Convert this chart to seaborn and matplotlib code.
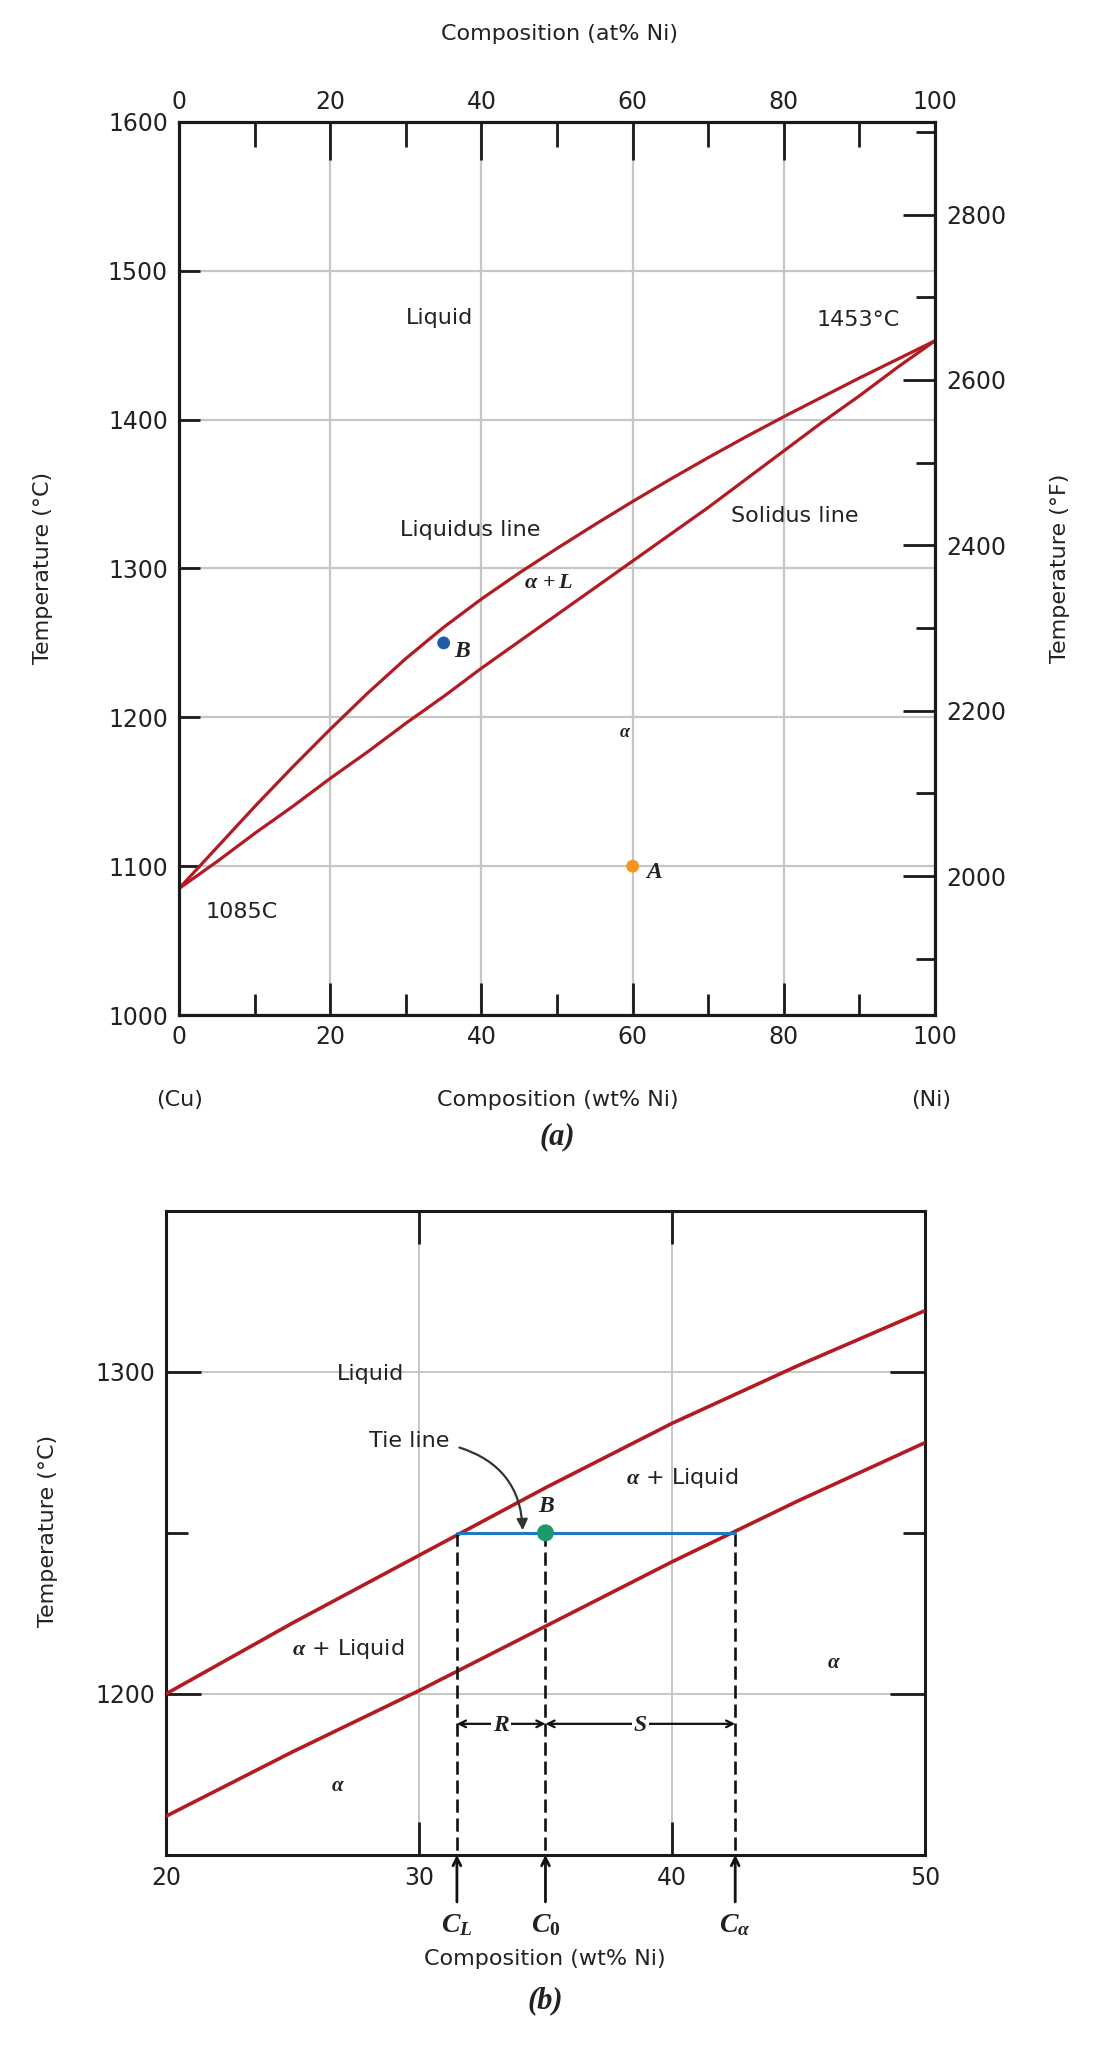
import matplotlib
matplotlib.use("Agg")
import matplotlib.pyplot as plt
import matplotlib.transforms as mtransforms
from matplotlib.ticker import FixedLocator, NullFormatter
import seaborn as sns

# ---------------- data ----------------
# (a) full Cu-Ni diagram
wt_ni_a = [0, 5, 10, 15, 20, 25, 30, 35, 40, 45, 50,
           55, 60, 65, 70, 75, 80, 85, 90, 95, 100]
liquidus_a = [1085, 1112.5, 1140, 1166.5, 1192, 1216.5, 1239.5, 1260.5, 1279.5,
              1297, 1313.5, 1329.5, 1345, 1360, 1374.5, 1388.5, 1402, 1415,
              1428, 1440.5, 1453]
solidus_a = [1085, 1103, 1122, 1140, 1159, 1177, 1196, 1214, 1233, 1251, 1269,
             1287, 1305, 1323, 1341, 1360, 1379, 1398, 1416, 1435, 1453]
point_names_a = ["B", "A"]
point_wt_a = [35, 60]
point_T_a = [1250, 1100]
point_colors_a = ["#1f5ca8", "#f7941d"]

x_major_a = [0, 20, 40, 60, 80, 100]
x_minor_a = [10, 30, 50, 70, 90]
y_major_a = [1000, 1100, 1200, 1300, 1400, 1500, 1600]
yF_major = [2000, 2200, 2400, 2600, 2800]
yF_minor = [1900, 2100, 2300, 2500, 2700, 2900]

# (b) enlarged region
wt_ni_b = [20, 25, 30, 35, 40, 45, 50]
liquidus_b = [1200, 1222, 1243, 1264, 1284, 1302, 1319]
solidus_b = [1162, 1182, 1201, 1221, 1241, 1260, 1278]
tie_T = 1250
comp_x = [31.5, 35.0, 42.5]          # C_L, C_0, C_alpha
comp_labels = [r"$C_L$", r"$C_0$", r"$C_\alpha$"]
x_major_b = [20, 30, 40, 50]
y_major_b = [1200, 1300]
y_minor_b = [1150, 1250, 1350]

RED = "#b31b22"
GRID = "#c6c6c6"
TXT = "#222222"
TIE = "#1f78c4"
GREEN = "#1a9a6a"

# ---------------- style ----------------
sns.set_theme(style="white")
plt.rcParams["font.family"] = ["DejaVu Sans"]
plt.rcParams["mathtext.fontset"] = "custom"
plt.rcParams["mathtext.it"] = "Liberation Serif:italic:bold"
plt.rcParams["mathtext.rm"] = "Liberation Serif:bold"
plt.rcParams["mathtext.bf"] = "Liberation Serif:bold"
plt.rcParams["text.color"] = TXT
plt.rcParams["axes.edgecolor"] = "#1a1a1a"
plt.rcParams["xtick.color"] = "#1a1a1a"
plt.rcParams["ytick.color"] = "#1a1a1a"
plt.rcParams["xtick.labelcolor"] = TXT
plt.rcParams["ytick.labelcolor"] = TXT

TICKFS = 17
LABFS = 16
TEXTFS = 16

fig = plt.figure(figsize=(11.08, 20.46), dpi=100)

# ================= panel (a) =================
ax = fig.add_axes([0.1616, 0.5039, 0.6823, 0.4365])
ax.set_xlim(0, 100)
ax.set_ylim(1000, 1600)
ax.grid(True, color=GRID, lw=1.6)
ax.set_axisbelow(True)

sns.lineplot(x=wt_ni_a, y=liquidus_a, ax=ax, color=RED, lw=2.3,
             estimator=None, sort=False, zorder=3)
sns.lineplot(x=wt_ni_a, y=solidus_a, ax=ax, color=RED, lw=2.3,
             estimator=None, sort=False, zorder=3)
sns.scatterplot(x=point_wt_a, y=point_T_a, hue=point_names_a,
                palette=dict(zip(point_names_a, point_colors_a)),
                s=85, edgecolor="none", legend=False, ax=ax, zorder=4)

ax.xaxis.set_major_locator(FixedLocator(x_major_a))
ax.xaxis.set_minor_locator(FixedLocator(x_minor_a))
ax.yaxis.set_major_locator(FixedLocator(y_major_a))
ax.tick_params(axis="x", which="major", direction="in", length=23, width=2,
               labelsize=TICKFS, pad=7, bottom=True, top=False)
ax.tick_params(axis="x", which="minor", direction="in", length=15, width=2,
               bottom=True, top=False)
ax.tick_params(axis="y", which="major", direction="in", length=15, width=2,
               labelsize=TICKFS, pad=8, left=True, right=False)
for sp in ax.spines.values():
    sp.set_linewidth(2.2)
ax.set_xlabel("")
ax.set_ylabel("")

# top axis (at% Ni)
axT = ax.twiny()
axT.set_xlim(0, 100)
axT.xaxis.set_major_locator(FixedLocator(x_major_a))
axT.xaxis.set_minor_locator(FixedLocator(x_minor_a))
axT.tick_params(axis="x", which="major", direction="in", length=27, width=2,
                labelsize=TICKFS, pad=6)
axT.tick_params(axis="x", which="minor", direction="in", length=18, width=2)
axT.grid(False)

# right axis (deg F)
axR = ax.twinx()
axR.set_ylim(1000 * 9 / 5 + 32, 1600 * 9 / 5 + 32)
axR.yaxis.set_major_locator(FixedLocator(yF_major))
axR.yaxis.set_minor_locator(FixedLocator(yF_minor))
axR.yaxis.set_minor_formatter(NullFormatter())
axR.tick_params(axis="y", which="major", direction="in", length=23, width=2,
                labelsize=TICKFS, pad=8)
axR.tick_params(axis="y", which="minor", direction="in", length=14, width=2)
axR.grid(False)
for a in (axT, axR):
    for sp in a.spines.values():
        sp.set_linewidth(2.2)

# annotations (a)
ax.text(34.5, 1468, "Liquid", fontsize=TEXTFS, ha="center", va="center")
ax.text(89.8, 1467, "1453°C", fontsize=TEXTFS, ha="center", va="center")
ax.text(38.5, 1326, "Liquidus line", fontsize=TEXTFS, ha="center", va="center")
ax.text(81.4, 1335, "Solidus line", fontsize=TEXTFS, ha="center", va="center")
ax.text(48.9, 1291, r"$\alpha\,+L$", fontsize=16, ha="center", va="center")
ax.text(59.0, 1190, r"$\alpha$", fontsize=13, ha="center", va="center")
ax.text(8.3, 1069, "1085C", fontsize=TEXTFS, ha="center", va="center")
ax.text(point_wt_a[0] + 1.4, point_T_a[0] - 5, "$B$", fontsize=17,
        ha="left", va="center")
ax.text(point_wt_a[1] + 1.6, point_T_a[1] - 3, "$A$", fontsize=17,
        ha="left", va="center")

fig.text(0.505, 0.9834, "Composition (at% Ni)", fontsize=LABFS,
         ha="center", va="center")
fig.text(0.0388, 0.7224, "Temperature (°C)", fontsize=LABFS, rotation=90,
         ha="center", va="center")
fig.text(0.9567, 0.7224, "Temperature (°F)", fontsize=LABFS, rotation=90,
         ha="center", va="center")
fig.text(0.1624, 0.4624, "(Cu)", fontsize=LABFS, ha="center", va="center")
fig.text(0.503, 0.4624, "Composition (wt% Ni)", fontsize=LABFS,
         ha="center", va="center")
fig.text(0.840, 0.4624, "(Ni)", fontsize=LABFS, ha="center", va="center")
fig.text(0.503, 0.4443, "(a)", fontsize=22, ha="center", va="center",
         family="Liberation Serif", weight="bold", style="italic")

# ================= panel (b) =================
ax2 = fig.add_axes([0.1498, 0.0934, 0.685, 0.3148])
ax2.set_xlim(20, 50)
ax2.set_ylim(1150, 1350)
ax2.xaxis.set_major_locator(FixedLocator(x_major_b))
ax2.yaxis.set_major_locator(FixedLocator(y_major_b))
ax2.yaxis.set_minor_locator(FixedLocator(y_minor_b))
ax2.yaxis.set_minor_formatter(NullFormatter())
ax2.grid(True, which="major", color=GRID, lw=1.4)
ax2.set_axisbelow(True)

sns.lineplot(x=wt_ni_b, y=liquidus_b, ax=ax2, color=RED, lw=2.6,
             estimator=None, sort=False, zorder=3)
sns.lineplot(x=wt_ni_b, y=solidus_b, ax=ax2, color=RED, lw=2.6,
             estimator=None, sort=False, zorder=3)

# dashed drop lines
for cx in comp_x:
    ax2.plot([cx, cx], [tie_T, 1150], color="#111111", lw=1.9,
             ls=(0, (5, 2.2)), zorder=3, clip_on=False)
# tie line
ax2.plot([comp_x[0], comp_x[2]], [tie_T, tie_T], color=TIE, lw=2.2, zorder=4)
sns.scatterplot(x=[comp_x[1]], y=[tie_T], color=GREEN, s=150,
                edgecolor="none", legend=False, ax=ax2, zorder=5)
ax2.text(comp_x[1] + 0.05, 1258.5, "$B$", fontsize=17, ha="center",
         va="center")

# tie line callout
ax2.text(29.6, 1278.5, "Tie line", fontsize=TEXTFS, ha="center", va="center")
ax2.annotate("", xy=(34.1, 1250.8), xytext=(31.6, 1276.5),
             arrowprops=dict(arrowstyle="-|>", connectionstyle="arc3,rad=-0.35",
                             color="#333333", lw=1.6, shrinkA=0, shrinkB=0,
                             mutation_scale=16), zorder=6)

# R and S dimension arrows
dimT = 1190.7
for x0, x1, lab in [(comp_x[0], comp_x[1], "$R$"), (comp_x[1], comp_x[2], "$S$")]:
    ax2.annotate("", xy=(x0, dimT), xytext=(x1, dimT),
                 arrowprops=dict(arrowstyle="<->", color="#111111", lw=1.6,
                                 shrinkA=0, shrinkB=0, mutation_scale=12),
                 zorder=4)
    ax2.text((x0 + x1) / 2, dimT, lab, fontsize=17, ha="center", va="center",
             bbox=dict(facecolor="white", edgecolor="none", pad=1), zorder=5)

# region labels
ax2.text(28.1, 1299.4, "Liquid", fontsize=TEXTFS, ha="center", va="center")
ax2.text(40.4, 1267, r"$\alpha$ + Liquid", fontsize=TEXTFS, ha="center",
         va="center")
ax2.text(27.2, 1213.8, r"$\alpha$ + Liquid", fontsize=TEXTFS, ha="center",
         va="center")
ax2.text(46.4, 1210, r"$\alpha$", fontsize=15, ha="center", va="center")
ax2.text(26.8, 1171.7, r"$\alpha$", fontsize=15, ha="center", va="center")

# arrows below axis pointing up to compositions
trans = mtransforms.blended_transform_factory(ax2.transData, ax2.transAxes)
for cx, lab in zip(comp_x, comp_labels):
    ax2.annotate("", xy=(cx, 0.0), xycoords=trans, xytext=(cx, -0.073),
                 textcoords=trans, annotation_clip=False,
                 arrowprops=dict(arrowstyle="->", color="#111111", lw=2.0,
                                 shrinkA=0, shrinkB=0, mutation_scale=14))
    ax2.text(cx, -0.107, lab, transform=trans, fontsize=20, ha="center",
             va="center")

ax2.tick_params(axis="x", which="major", direction="in", length=24, width=2,
                labelsize=TICKFS, pad=8, bottom=True, top=True)
ax2.tick_params(axis="y", which="major", direction="in", length=25, width=2,
                labelsize=TICKFS, pad=8, left=True, right=True)
ax2.tick_params(axis="y", which="minor", direction="in", length=16, width=2,
                left=True, right=True)
for sp in ax2.spines.values():
    sp.set_linewidth(2.2)
ax2.set_xlabel("")
ax2.set_ylabel("")

fig.text(0.0436, 0.2517, "Temperature (°C)", fontsize=LABFS, rotation=90,
         ha="center", va="center")
fig.text(0.492, 0.0425, "Composition (wt% Ni)", fontsize=LABFS,
         ha="center", va="center")
fig.text(0.492, 0.0220, "(b)", fontsize=22, ha="center", va="center",
         family="Liberation Serif", weight="bold", style="italic")

fig.savefig("out.png", dpi=100)
